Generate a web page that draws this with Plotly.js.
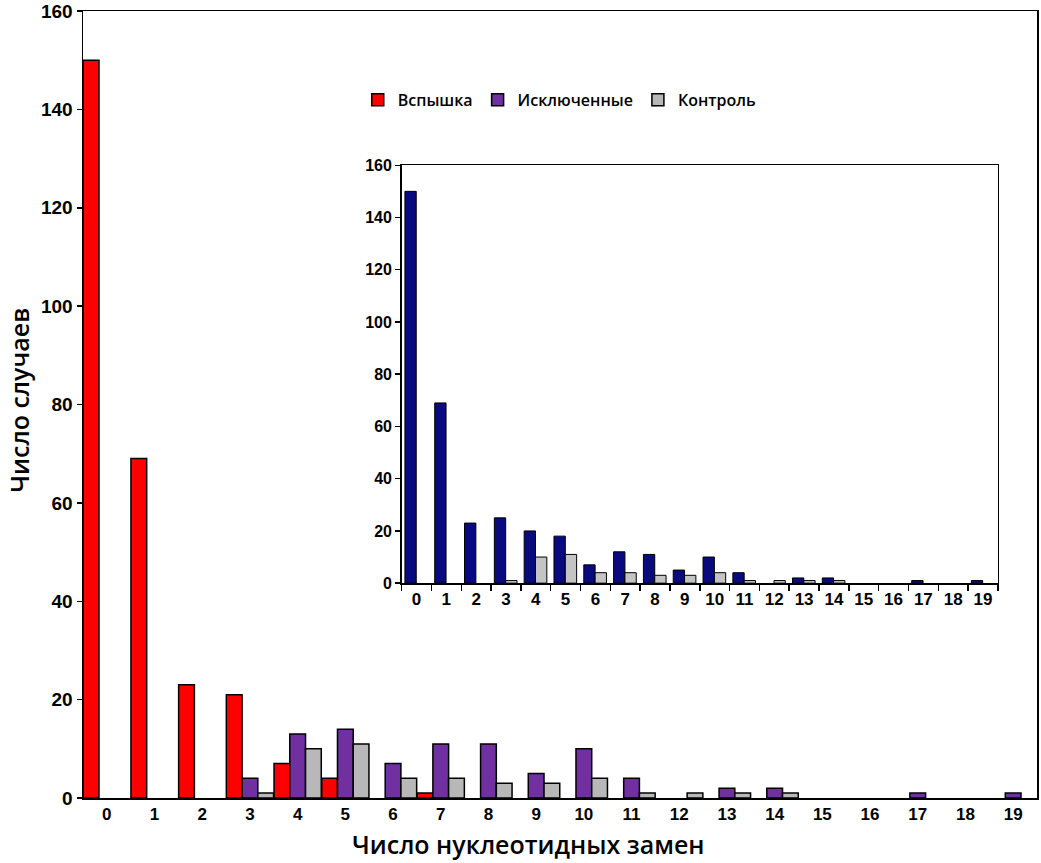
<!DOCTYPE html>
<html>
<head>
<meta charset="utf-8">
<script src="https://cdn.plot.ly/plotly-3.0.1.min.js"></script>
<style>html,body{margin:0;padding:0;background:#fff;}#chart{width:1041px;height:863px;}</style>
</head>
<body>
<div id="chart"></div>
<script>
// Categories: number of nucleotide substitutions
const categories = ["0","1","2","3","4","5","6","7","8","9","10","11","12","13","14","15","16","17","18","19"];

// Main chart series
const outbreak = [150, 69, 23, 21, 7, 4, 0, 1, 0, 0, 0, 0, 0, 0, 0, 0, 0, 0, 0, 0];   // Вспышка
const excluded = [0, 0, 0, 4, 13, 14, 7, 11, 11, 5, 10, 4, 0, 2, 2, 0, 0, 1, 0, 1];    // Исключенные
const control  = [0, 0, 0, 1, 10, 11, 4, 4, 3, 3, 4, 1, 1, 1, 1, 0, 0, 0, 0, 0];       // Контроль

// Inset series
const insetTotal   = [150, 69, 23, 25, 20, 18, 7, 12, 11, 5, 10, 4, 0, 2, 2, 0, 0, 1, 0, 1];
const insetControl = [0, 0, 0, 1, 10, 11, 4, 4, 3, 3, 4, 1, 1, 1, 1, 0, 0, 0, 0, 0];

const yTicks = [0, 20, 40, 60, 80, 100, 120, 140, 160];

const seriesNames = ["Вспышка", "Исключенные", "Контроль"];

// zero-height bars are not drawn in the original
const nz = arr => arr.map(v => (v === 0 ? null : v));

const lineStyle = {color: "#000000", width: 1.5};

const traces = [
  {type: "bar", x: categories, y: nz(outbreak), name: seriesNames[0], xaxis: "x", yaxis: "y",
   width: 0.33, offset: -0.495,
   marker: {color: "#FF0000", line: lineStyle}},
  {type: "bar", x: categories, y: nz(excluded), name: seriesNames[1], xaxis: "x", yaxis: "y",
   width: 0.33, offset: -0.165,
   marker: {color: "#7030A0", line: lineStyle}},
  {type: "bar", x: categories, y: nz(control), name: seriesNames[2], xaxis: "x", yaxis: "y",
   width: 0.33, offset: 0.165,
   marker: {color: "#B8B8B8", line: lineStyle}},
  {type: "bar", x: categories, y: nz(insetTotal), name: "inset total", xaxis: "x2", yaxis: "y2",
   width: 0.38, offset: -0.39, showlegend: false,
   marker: {color: "#0A0A80", line: {color: "#000000", width: 1}}},
  {type: "bar", x: categories, y: nz(insetControl), name: "inset control", xaxis: "x2", yaxis: "y2",
   width: 0.38, offset: -0.01, showlegend: false,
   marker: {color: "#C4C4C4", line: {color: "#000000", width: 1}}}
];

const tickFamily = "Liberation Sans, Arial, sans-serif";
const titleFont = {family: "Open Sans, sans-serif", size: 25, color: "#000", weight: 600};

const layout = {
  width: 1041, height: 863,
  margin: {l: 83, r: 4, t: 11, b: 65, pad: 0},
  paper_bgcolor: "#ffffff", plot_bgcolor: "#ffffff",
  barmode: "group",
  showlegend: true,
  legend: {
    orientation: "h", x: 0.288, y: 0.887, xanchor: "left", yanchor: "middle",
    font: {family: "Open Sans, sans-serif", size: 16, color: "#000", weight: 600},
    itemwidth: 30, tracegroupgap: 0, bgcolor: "rgba(0,0,0,0)"
  },
  xaxis: {
    type: "category", domain: [0, 1], anchor: "y",
    range: [-0.5, 19.5],
    showline: true, linecolor: "#000", linewidth: 1.5, mirror: true,
    ticks: "", showgrid: false, zeroline: false,
    tickfont: {family: tickFamily, size: 17, color: "#000", weight: "bold"}
  },
  yaxis: {
    domain: [0, 1], anchor: "x",
    range: [0, 160], tickvals: yTicks,
    showline: true, linecolor: "#000", linewidth: 1.5, mirror: true,
    ticks: "outside", ticklen: 5, tickwidth: 1.5, tickcolor: "#000",
    showgrid: false, zeroline: false,
    tickfont: {family: tickFamily, size: 19, color: "#000", weight: "bold"}
  },
  xaxis2: {
    type: "category", domain: [0.334, 0.959], anchor: "y2",
    range: [-0.5, 19.5],
    showline: true, linecolor: "#000", linewidth: 1.5, mirror: true,
    ticks: "outside", tickson: "boundaries", ticklen: 6, tickwidth: 1.5, tickcolor: "#000",
    showgrid: false, zeroline: false,
    tickfont: {family: tickFamily, size: 17, color: "#000", weight: "bold"}
  },
  yaxis2: {
    domain: [0.273, 0.804], anchor: "x2",
    range: [0, 160], tickvals: yTicks,
    showline: true, linecolor: "#000", linewidth: 1.5, mirror: true,
    ticks: "outside", ticklen: 5, tickwidth: 1.5, tickcolor: "#000",
    showgrid: false, zeroline: false,
    tickfont: {family: tickFamily, size: 16, color: "#000", weight: "bold"}
  },
  annotations: [
    {text: "Число нуклеотидных замен", xref: "paper", yref: "paper",
     x: (528 - 83) / 954, y: -0.058, xanchor: "center", yanchor: "middle",
     showarrow: false, font: titleFont},
    {text: "Число случаев", xref: "paper", yref: "paper", textangle: -90,
     x: -0.068, y: 0.505, xanchor: "center", yanchor: "middle",
     showarrow: false, font: titleFont}
  ]
};

Plotly.newPlot("chart", traces, layout, {displayModeBar: false, staticPlot: true});
</script>
</body>
</html>
